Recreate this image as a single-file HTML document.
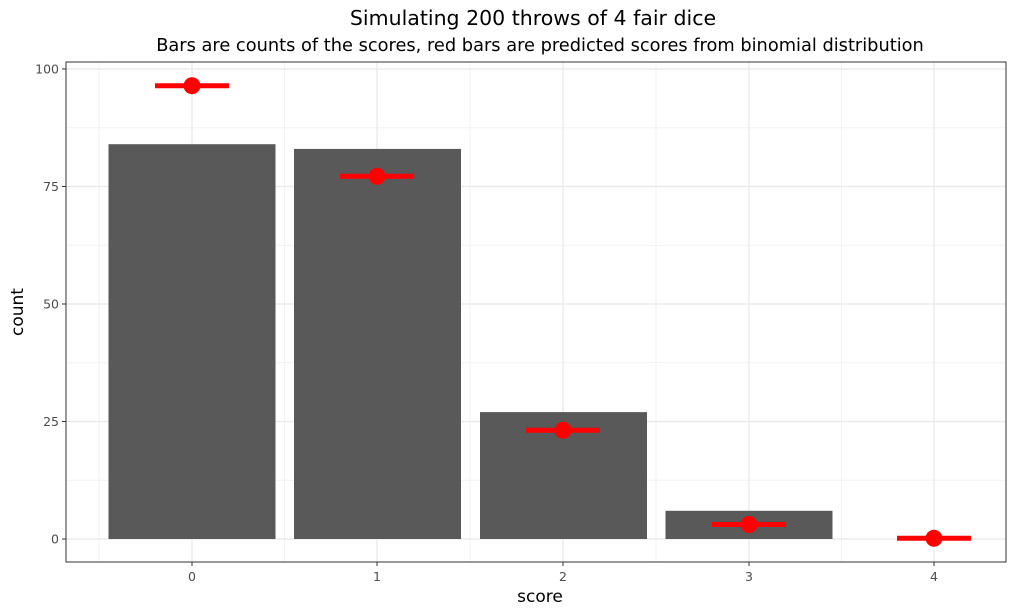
<!DOCTYPE html>
<html><head><meta charset="utf-8"><style>body{margin:0;background:#fff}svg{display:block}text{font-family:"DejaVu Sans","Liberation Sans",sans-serif}</style></head>
<body>
<svg width="1024" height="614" xmlns="http://www.w3.org/2000/svg">
<rect width="1024" height="614" fill="#fff"/>
<g stroke="#f2f2f2" stroke-width="1">
<line x1="66" x2="1006" y1="480.25" y2="480.25"/><line x1="66" x2="1006" y1="362.75" y2="362.75"/>
<line x1="66" x2="1006" y1="245.25" y2="245.25"/><line x1="66" x2="1006" y1="127.75" y2="127.75"/>
<line x1="99" x2="99" y1="62" y2="562"/><line x1="284.5" x2="284.5" y1="62" y2="562"/><line x1="470" x2="470" y1="62" y2="562"/><line x1="656" x2="656" y1="62" y2="562"/><line x1="841.5" x2="841.5" y1="62" y2="562"/>
</g>
<g stroke="#ebebeb" stroke-width="1.4">
<line x1="66" x2="1006" y1="539" y2="539"/><line x1="66" x2="1006" y1="421.5" y2="421.5"/><line x1="66" x2="1006" y1="304" y2="304"/><line x1="66" x2="1006" y1="186.5" y2="186.5"/><line x1="66" x2="1006" y1="69" y2="69"/>
<line x1="192" x2="192" y1="62" y2="562"/><line x1="377" x2="377" y1="62" y2="562"/><line x1="563" x2="563" y1="62" y2="562"/><line x1="749" x2="749" y1="62" y2="562"/><line x1="934" x2="934" y1="62" y2="562"/>
</g>
<g fill="#595959">
<rect x="108.5" y="144.2" width="167" height="394.8"/>
<rect x="294" y="148.9" width="167" height="390.1"/>
<rect x="480" y="412.1" width="167" height="126.9"/>
<rect x="665.5" y="510.8" width="167" height="28.2"/>
</g>
<g stroke="#ff0000" stroke-width="5">
<line x1="155" x2="229" y1="85.7" y2="85.7"/>
<line x1="340" x2="414" y1="176.3" y2="176.3"/>
<line x1="526" x2="600" y1="430.2" y2="430.2"/>
<line x1="712" x2="786" y1="524.5" y2="524.5"/>
<line x1="897" x2="971" y1="538.3" y2="538.3"/>
</g>
<g fill="#ff0000">
<circle cx="192" cy="85.7" r="8.5"/><circle cx="377" cy="176.3" r="8.5"/><circle cx="563" cy="430.2" r="8.5"/><circle cx="749" cy="524.5" r="8.5"/><circle cx="934" cy="538.3" r="8.5"/>
</g>
<rect x="66" y="62" width="940" height="500" fill="none" stroke="#333" stroke-width="1"/>
<g stroke="#333" stroke-width="1">
<line x1="62" x2="66" y1="539" y2="539"/><line x1="62" x2="66" y1="421.5" y2="421.5"/><line x1="62" x2="66" y1="304" y2="304"/><line x1="62" x2="66" y1="186.5" y2="186.5"/><line x1="62" x2="66" y1="69" y2="69"/>
<line x1="192" x2="192" y1="562" y2="566"/><line x1="377" x2="377" y1="562" y2="566"/><line x1="563" x2="563" y1="562" y2="566"/><line x1="749" x2="749" y1="562" y2="566"/><line x1="934" x2="934" y1="562" y2="566"/>
</g>
<g font-size="12.5" fill="#4d4d4d" text-anchor="end">
<text x="59" y="543.5">0</text><text x="59" y="426">25</text><text x="59" y="308.5">50</text><text x="59" y="191">75</text><text x="59" y="73.5">100</text>
</g>
<g font-size="12.5" fill="#4d4d4d" text-anchor="middle">
<text x="192" y="581">0</text><text x="377" y="581">1</text><text x="563" y="581">2</text><text x="749" y="581">3</text><text x="934" y="581">4</text>
</g>
<text x="540" y="602" font-size="17" text-anchor="middle" fill="#000">score</text>
<text transform="translate(23,312) rotate(-90)" font-size="17" text-anchor="middle" fill="#000">count</text>
<text x="533" y="25" font-size="20.5" text-anchor="middle" fill="#000">Simulating 200 throws of 4 fair dice</text>
<text x="540" y="51" font-size="17.8" text-anchor="middle" fill="#000">Bars are counts of the scores, red bars are predicted scores from binomial distribution</text>
</svg>
</body></html>
